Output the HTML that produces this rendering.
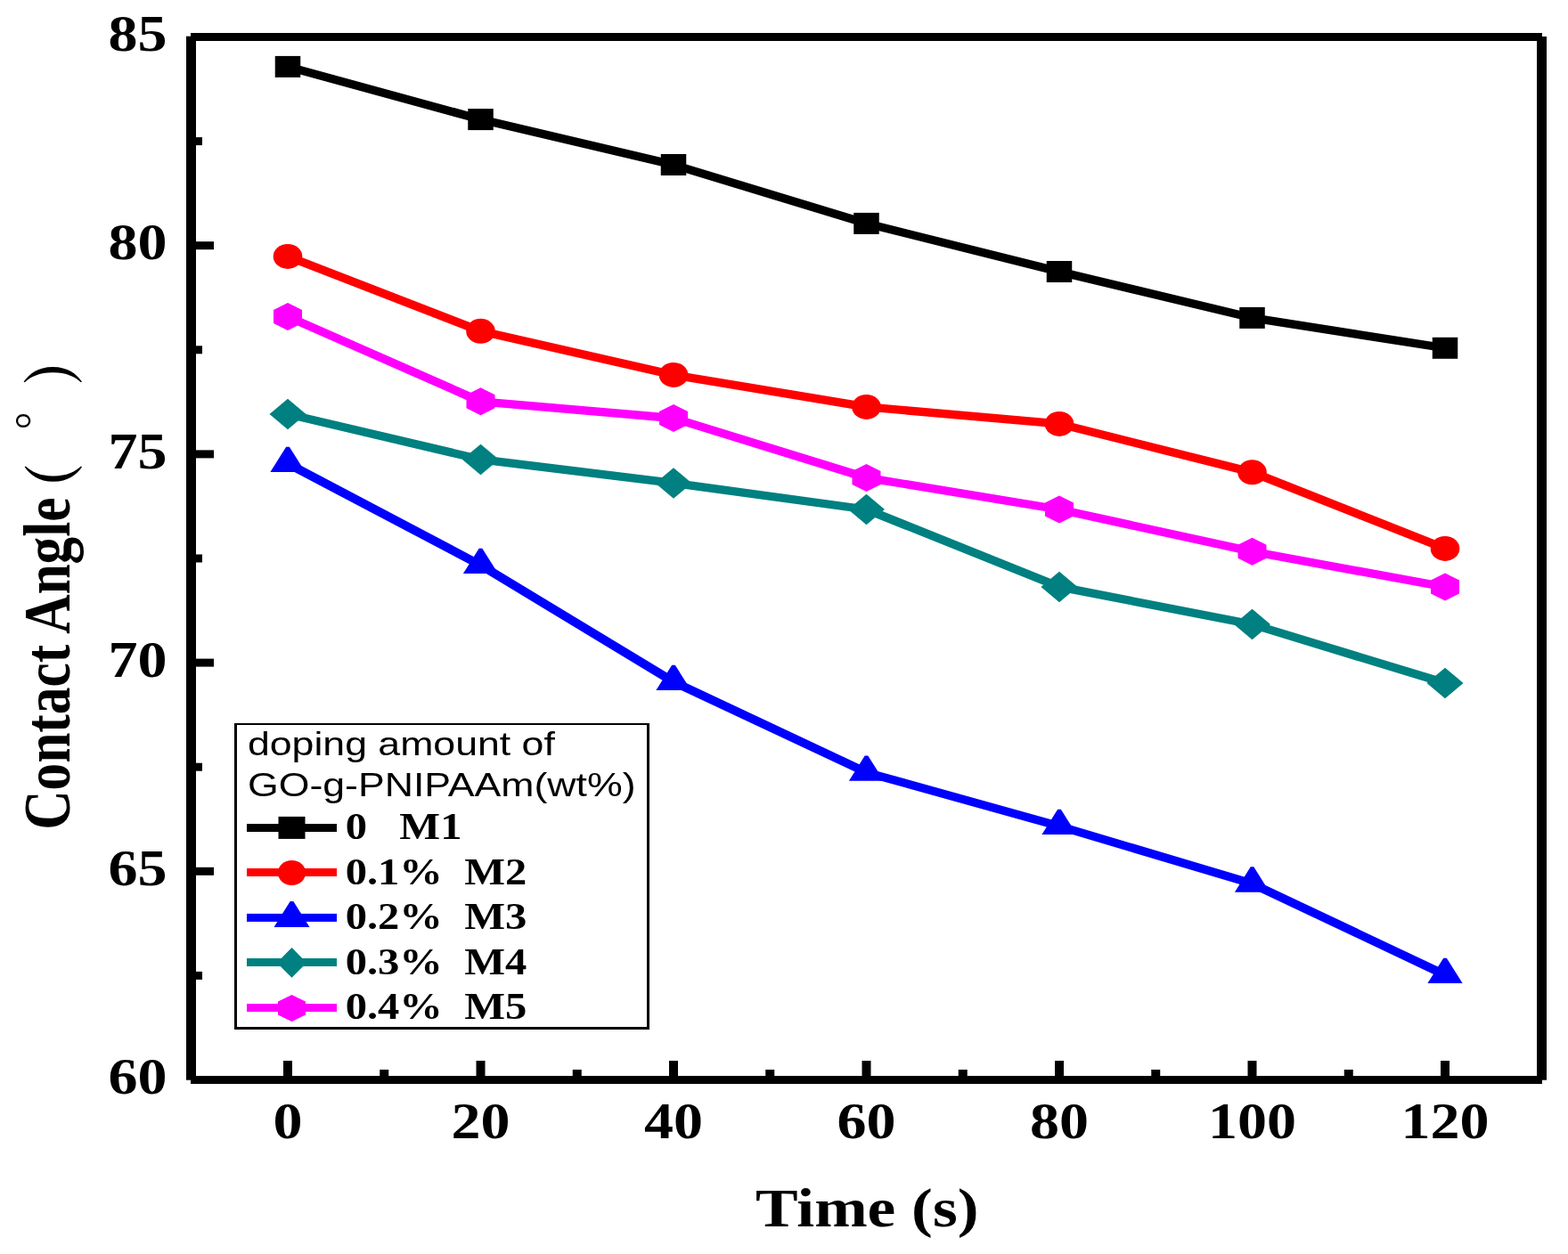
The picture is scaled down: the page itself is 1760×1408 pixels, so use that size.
<!DOCTYPE html>
<html><head><meta charset="utf-8"><title>Contact Angle vs Time</title>
<style>
html,body{margin:0;padding:0;background:#fff;overflow:hidden}
svg{display:block}
.ser{font-family:"Liberation Serif","Times New Roman",serif;font-weight:bold}
.san{font-family:"Liberation Sans",Arial,sans-serif}
</style></head><body>
<svg width="1760" height="1408" viewBox="0 0 1760 1408">
<rect x="0" y="0" width="1760" height="1408" fill="#fff"/>

<g fill="#000">
<rect x="209" y="40.7" width="11" height="1172"/>
<rect x="214" y="37" width="1517" height="9"/>
<rect x="1725" y="41" width="11" height="1171.7"/>
<rect x="214" y="1208" width="1517" height="9"/>
<rect x="220" y="1090.90" width="7" height="9"/>
<rect x="220" y="973.80" width="20" height="9"/>
<rect x="220" y="856.70" width="7" height="9"/>
<rect x="220" y="739.60" width="20" height="9"/>
<rect x="220" y="622.50" width="7" height="9"/>
<rect x="220" y="505.40" width="20" height="9"/>
<rect x="220" y="388.30" width="7" height="9"/>
<rect x="220" y="271.20" width="20" height="9"/>
<rect x="220" y="154.10" width="7" height="9"/>
<rect x="318.00" y="1191" width="10" height="17"/>
<rect x="426.25" y="1201" width="10" height="7"/>
<rect x="534.50" y="1191" width="10" height="17"/>
<rect x="642.75" y="1201" width="10" height="7"/>
<rect x="751.00" y="1191" width="10" height="17"/>
<rect x="859.25" y="1201" width="10" height="7"/>
<rect x="967.50" y="1191" width="10" height="17"/>
<rect x="1075.75" y="1201" width="10" height="7"/>
<rect x="1184.00" y="1191" width="10" height="17"/>
<rect x="1292.25" y="1201" width="10" height="7"/>
<rect x="1400.50" y="1191" width="10" height="17"/>
<rect x="1508.75" y="1201" width="10" height="7"/>
<rect x="1617.00" y="1191" width="10" height="17"/>
</g>
<g transform="scale(1.2,1)" fill="none" stroke-width="9.3" stroke-linejoin="round">
<polyline points="269.17,74.90 449.58,134.10 630.00,185.00 810.42,250.90 990.83,305.00 1171.25,356.90 1351.67,390.80" stroke="#000000"/>
<polyline points="269.17,287.90 449.58,371.80 630.00,420.90 810.42,456.90 990.83,475.90 1171.25,530.30 1351.67,615.90" stroke="#FF0000"/>
<polyline points="269.17,520.50 449.58,634.60 630.00,765.60 810.42,867.30 990.83,927.60 1171.25,992.20 1351.67,1094.60" stroke="#0000FF"/>
<polyline points="269.17,464.90 449.58,515.90 630.00,542.45 810.42,572.00 990.83,658.90 1171.25,701.00 1351.67,766.95" stroke="#008080"/>
<polyline points="269.17,355.50 449.58,450.80 630.00,469.50 810.42,536.40 990.83,572.00 1171.25,619.30 1351.67,659.00" stroke="#FF00FF"/>
</g>
<rect x="308.75" y="62.90" width="28.5" height="24" fill="#000000"/>
<rect x="525.25" y="122.10" width="28.5" height="24" fill="#000000"/>
<rect x="741.75" y="173.00" width="28.5" height="24" fill="#000000"/>
<rect x="958.25" y="238.90" width="28.5" height="24" fill="#000000"/>
<rect x="1174.75" y="293.00" width="28.5" height="24" fill="#000000"/>
<rect x="1391.25" y="344.90" width="28.5" height="24" fill="#000000"/>
<rect x="1607.75" y="378.80" width="28.5" height="24" fill="#000000"/>
<ellipse cx="323.00" cy="287.90" rx="16.3" ry="14" fill="#FF0000"/>
<ellipse cx="539.50" cy="371.80" rx="16.3" ry="14" fill="#FF0000"/>
<ellipse cx="756.00" cy="420.90" rx="16.3" ry="14" fill="#FF0000"/>
<ellipse cx="972.50" cy="456.90" rx="16.3" ry="14" fill="#FF0000"/>
<ellipse cx="1189.00" cy="475.90" rx="16.3" ry="14" fill="#FF0000"/>
<ellipse cx="1405.50" cy="530.30" rx="16.3" ry="14" fill="#FF0000"/>
<ellipse cx="1622.00" cy="615.90" rx="16.3" ry="14" fill="#FF0000"/>
<polygon points="321.20,501.63 324.80,501.63 342.60,529.93 303.40,529.93" fill="#0000FF"/>
<polygon points="537.70,615.73 541.30,615.73 559.10,644.03 519.90,644.03" fill="#0000FF"/>
<polygon points="754.20,746.73 757.80,746.73 775.60,775.03 736.40,775.03" fill="#0000FF"/>
<polygon points="970.70,848.43 974.30,848.43 992.10,876.73 952.90,876.73" fill="#0000FF"/>
<polygon points="1187.20,908.73 1190.80,908.73 1208.60,937.03 1169.40,937.03" fill="#0000FF"/>
<polygon points="1403.70,973.33 1407.30,973.33 1425.10,1001.63 1385.90,1001.63" fill="#0000FF"/>
<polygon points="1620.20,1075.73 1623.80,1075.73 1641.60,1104.03 1602.40,1104.03" fill="#0000FF"/>
<polygon points="323.00,447.65 343.50,464.90 323.00,482.15 302.50,464.90" fill="#008080"/>
<polygon points="539.50,498.65 560.00,515.90 539.50,533.15 519.00,515.90" fill="#008080"/>
<polygon points="756.00,525.20 776.50,542.45 756.00,559.70 735.50,542.45" fill="#008080"/>
<polygon points="972.50,554.75 993.00,572.00 972.50,589.25 952.00,572.00" fill="#008080"/>
<polygon points="1189.00,641.65 1209.50,658.90 1189.00,676.15 1168.50,658.90" fill="#008080"/>
<polygon points="1405.50,683.75 1426.00,701.00 1405.50,718.25 1385.00,701.00" fill="#008080"/>
<polygon points="1622.00,749.70 1642.50,766.95 1622.00,784.20 1601.50,766.95" fill="#008080"/>
<polygon points="323.00,340.00 339.00,348.00 339.00,363.00 323.00,371.00 307.00,363.00 307.00,348.00" fill="#FF00FF"/>
<polygon points="539.50,435.30 555.50,443.30 555.50,458.30 539.50,466.30 523.50,458.30 523.50,443.30" fill="#FF00FF"/>
<polygon points="756.00,454.00 772.00,462.00 772.00,477.00 756.00,485.00 740.00,477.00 740.00,462.00" fill="#FF00FF"/>
<polygon points="972.50,520.90 988.50,528.90 988.50,543.90 972.50,551.90 956.50,543.90 956.50,528.90" fill="#FF00FF"/>
<polygon points="1189.00,556.50 1205.00,564.50 1205.00,579.50 1189.00,587.50 1173.00,579.50 1173.00,564.50" fill="#FF00FF"/>
<polygon points="1405.50,603.80 1421.50,611.80 1421.50,626.80 1405.50,634.80 1389.50,626.80 1389.50,611.80" fill="#FF00FF"/>
<polygon points="1622.00,643.50 1638.00,651.50 1638.00,666.50 1622.00,674.50 1606.00,666.50 1606.00,651.50" fill="#FF00FF"/>
<text class="ser" transform="translate(187.50,1228.25) scale(1.2,1.03)" font-size="55" text-anchor="end">60</text>
<text class="ser" transform="translate(187.50,994.05) scale(1.2,1.03)" font-size="55" text-anchor="end">65</text>
<text class="ser" transform="translate(187.50,759.85) scale(1.2,1.03)" font-size="55" text-anchor="end">70</text>
<text class="ser" transform="translate(187.50,525.65) scale(1.2,1.03)" font-size="55" text-anchor="end">75</text>
<text class="ser" transform="translate(187.50,291.45) scale(1.2,1.03)" font-size="55" text-anchor="end">80</text>
<text class="ser" transform="translate(187.50,57.25) scale(1.2,1.03)" font-size="55" text-anchor="end">85</text>
<text class="ser" transform="translate(323.00,1277.50) scale(1.2,1.03)" font-size="55" text-anchor="middle">0</text>
<text class="ser" transform="translate(539.50,1277.50) scale(1.2,1.03)" font-size="55" text-anchor="middle">20</text>
<text class="ser" transform="translate(756.00,1277.50) scale(1.2,1.03)" font-size="55" text-anchor="middle">40</text>
<text class="ser" transform="translate(972.50,1277.50) scale(1.2,1.03)" font-size="55" text-anchor="middle">60</text>
<text class="ser" transform="translate(1189.00,1277.50) scale(1.2,1.03)" font-size="55" text-anchor="middle">80</text>
<text class="ser" transform="translate(1405.50,1277.50) scale(1.2,1.03)" font-size="55" text-anchor="middle">100</text>
<text class="ser" transform="translate(1622.00,1277.50) scale(1.2,1.03)" font-size="55" text-anchor="middle">120</text>
<text class="ser" transform="translate(973.20,1377.10) scale(1.18,1)" font-size="60.5" text-anchor="middle">Time (s)</text>
<text class="ser" transform="translate(77.8,931.8) scale(1.2,1) rotate(-90)" font-size="61.4">Contact Angle</text>
<text transform="translate(85.67,576.8) scale(1.128,0.94) rotate(-90)" font-size="60" style="font-family:'Noto Serif CJK SC','Noto Serif CJK JP',serif;font-weight:900">（</text>
<text transform="translate(60.17,481.7) scale(0.921,0.8475) rotate(-90)" font-size="60" style="font-family:'Noto Serif CJK SC','Noto Serif CJK JP',serif;font-weight:900">°</text>
<text transform="translate(85.56,432.5) scale(1.147,0.945) rotate(-90)" font-size="60" style="font-family:'Noto Serif CJK SC','Noto Serif CJK JP',serif;font-weight:900">）</text>
<g fill="#000">
<rect x="263" y="812" width="466" height="2"/>
<rect x="263" y="1153" width="466" height="3"/>
<rect x="263" y="812" width="3" height="344"/>
<rect x="726" y="812" width="3" height="344"/>
</g>
<text class="san" transform="translate(277.93,847.90) scale(1.2,1)" font-size="37.2" text-anchor="start">doping amount of</text>
<text class="san" transform="translate(277.97,893.50) scale(1.2,1)" font-size="37.2" text-anchor="start">GO-g-PNIPAAm(wt%)</text>
<rect x="277" y="925.00" width="101" height="9" fill="#000000"/>
<rect x="312.50" y="916.90" width="30" height="25" fill="#000000"/>
<text class="ser" transform="translate(387.65,942.40) scale(1.2,1.03)" font-size="40.5" text-anchor="start" xml:space="preserve">0   M1</text>
<rect x="277" y="975.00" width="101" height="9" fill="#FF0000"/>
<ellipse cx="327.50" cy="980.00" rx="15.6" ry="14" fill="#FF0000"/>
<text class="ser" transform="translate(387.65,992.90) scale(1.2,1.03)" font-size="40.5" text-anchor="start" xml:space="preserve">0.1%  M2</text>
<rect x="277" y="1025.90" width="101" height="9" fill="#0000FF"/>
<polygon points="325.70,1011.97 329.30,1011.97 347.50,1040.97 307.50,1040.97" fill="#0000FF"/>
<text class="ser" transform="translate(387.65,1043.40) scale(1.2,1.03)" font-size="40.5" text-anchor="start" xml:space="preserve">0.2%  M3</text>
<rect x="277" y="1076.00" width="101" height="9" fill="#008080"/>
<polygon points="327.50,1064.00 344.25,1080.90 327.50,1097.80 310.75,1080.90" fill="#008080"/>
<text class="ser" transform="translate(387.65,1093.90) scale(1.2,1.03)" font-size="40.5" text-anchor="start" xml:space="preserve">0.3%  M4</text>
<rect x="277" y="1127.00" width="101" height="9" fill="#FF00FF"/>
<polygon points="327.50,1117.00 343.00,1124.40 343.00,1139.60 327.50,1147.00 312.00,1139.60 312.00,1124.40" fill="#FF00FF"/>
<text class="ser" transform="translate(387.65,1144.40) scale(1.2,1.03)" font-size="40.5" text-anchor="start" xml:space="preserve">0.4%  M5</text>
</svg>
</body></html>
